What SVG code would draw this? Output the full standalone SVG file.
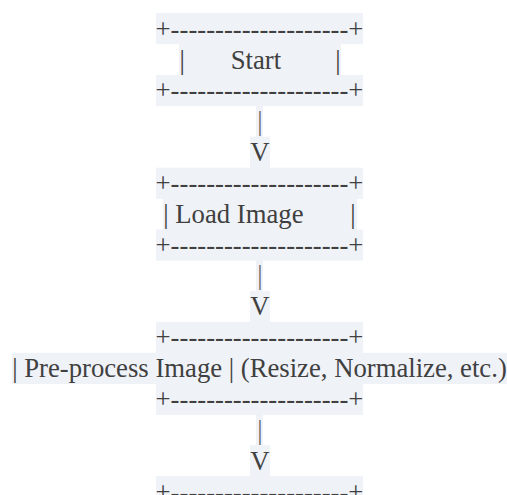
<svg xmlns="http://www.w3.org/2000/svg" width="507" height="495" viewBox="0 0 507 495">
<style>
.bg{fill:#eff2f7}
.t{font-family:"Liberation Serif","Times New Roman",serif;font-size:26.7px;fill:#404040}
.m{text-anchor:middle}
.b{fill:#6a6a6a}
</style>
<rect width="507" height="495" fill="#ffffff"/>
<g id="start">
<rect class="bg" x="156" y="13" width="207" height="31.2"/>
<text class="t m" x="259.5" y="37.5">+--------------------+</text>
<rect class="bg" x="179" y="44" width="162" height="31.2"/>
<text class="t" y="68.5"><tspan x="179.5">|</tspan><tspan x="230.7">Start</tspan><tspan x="335.3">|</tspan></text>
<rect class="bg" x="156" y="75" width="207" height="31.2"/>
<text class="t m" x="259.5" y="99.4">+--------------------+</text>
</g>
<g id="connectors">
<rect class="bg" x="256" y="105.8" width="7" height="31.2"/>
<text class="t m b" x="259.8" y="130.3">|</text>
<rect class="bg" x="250" y="136.7" width="20" height="31.2"/>
<text class="t m" x="260" y="161.2">V</text>
<rect class="bg" x="256" y="260" width="7" height="31.2"/>
<text class="t m b" x="259.8" y="284.4">|</text>
<rect class="bg" x="250" y="290.9" width="20" height="31.2"/>
<text class="t m" x="260" y="315.4">V</text>
<rect class="bg" x="256" y="414.3" width="7" height="31.2"/>
<text class="t m b" x="259.8" y="438.7">|</text>
<rect class="bg" x="250" y="445.2" width="20" height="31.2"/>
<text class="t m" x="260" y="469.7">V</text>
</g>
<g id="load-image">
<rect class="bg" x="156" y="167.7" width="207" height="31.2"/>
<text class="t m" x="259.5" y="192.2">+--------------------+</text>
<rect class="bg" x="163" y="198.6" width="194" height="31.2"/>
<text class="t" y="223.1"><tspan x="163.3">| Load Image</tspan><tspan x="350.3">|</tspan></text>
<rect class="bg" x="156" y="229.5" width="207" height="31.2"/>
<text class="t m" x="259.5" y="254">+--------------------+</text>
</g>
<g id="pre-process">
<rect class="bg" x="156" y="321.9" width="207" height="31.2"/>
<text class="t m" x="259.5" y="346.4">+--------------------+</text>
<rect class="bg" x="12" y="352.8" width="495" height="31.2"/>
<text class="t m" x="259.5" y="377.3">| Pre-process Image | (Resize, Normalize, etc.)</text>
<rect class="bg" x="156" y="383.8" width="207" height="31.2"/>
<text class="t m" x="259.5" y="408.3">+--------------------+</text>
</g>
<g id="next">
<rect class="bg" x="156" y="476.1" width="207" height="31.2"/>
<text class="t m" x="259.5" y="500.6">+--------------------+</text>
</g>
</svg>
